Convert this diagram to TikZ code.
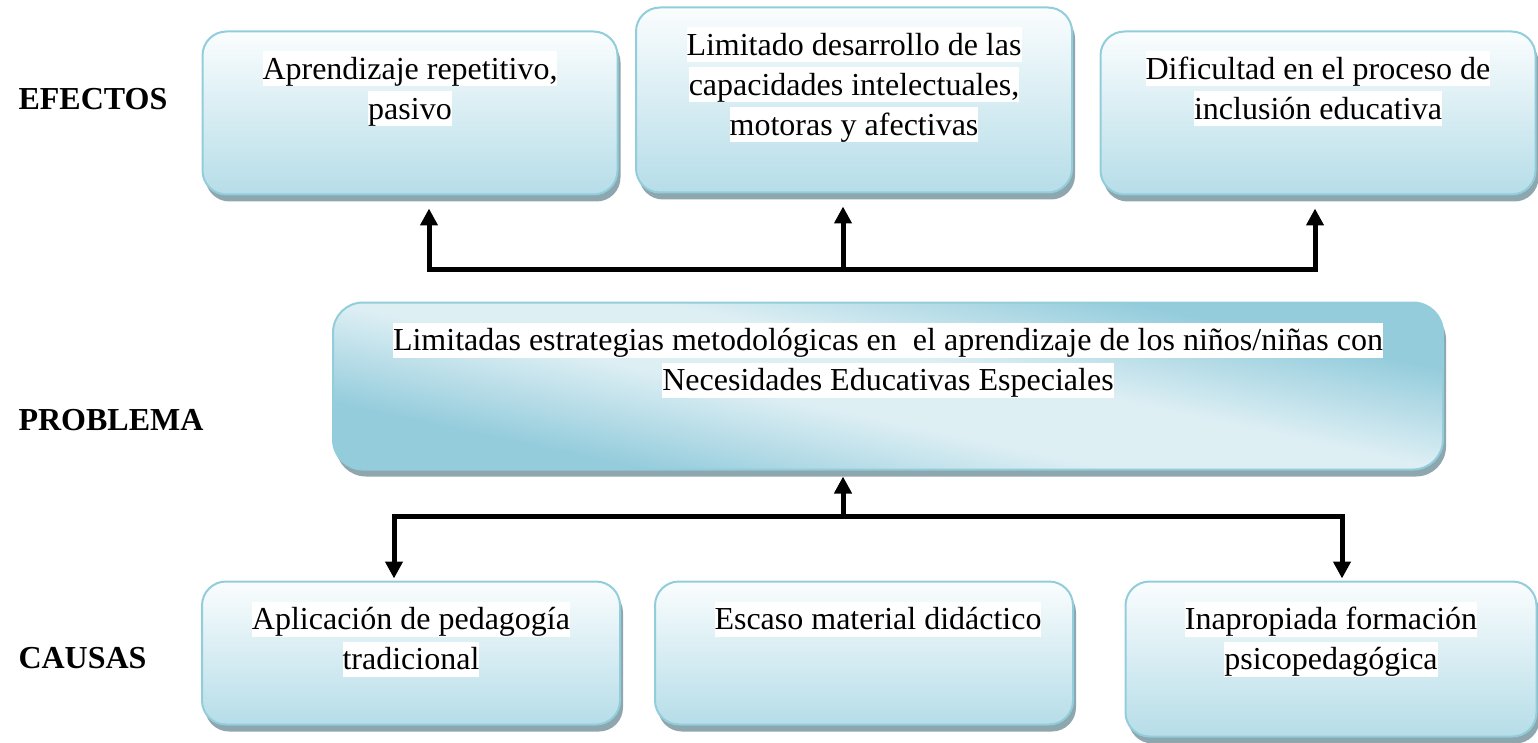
\documentclass[tikz,border=0pt]{standalone}
\usepackage{fontspec}
\setmainfont{Liberation Serif}
\usetikzlibrary{arrows.meta,shadows}
\definecolor{boxline}{HTML}{92CDDC}
\definecolor{boxtop}{HTML}{FAFDFE}
\definecolor{boxbot}{HTML}{B6DDE8}
\definecolor{boxshadow}{HTML}{8EA6AD}
\definecolor{problight}{HTML}{DEEFF4}
\definecolor{probdark}{HTML}{94CCDC}
\pgfdeclareverticalshading{probshade}{100bp}{color(0bp)=(probdark);
  color(30bp)=(probdark); color(45bp)=(problight); color(55bp)=(problight);
  color(70bp)=(probdark); color(100bp)=(probdark)}
\setlength{\fboxsep}{0pt}
% white band behind every line of text
\newcommand{\wbg}[1]{\colorbox{white}{\rule[-7pt]{0pt}{35pt}#1}}
% text hanging from the top of a box
\newcommand{\celda}[3]{\parbox[c][#2][t]{#1}{\centering\vspace*{20pt}#3}}
\tikzset{%
  >={Triangle[width=17pt,length=17pt]},
  % Specifications for style of nodes:
       box/.style = {rectangle, rounded corners=24pt, draw=boxline,
                     line width=2pt, top color=boxtop, bottom color=boxbot,
                     inner sep=0pt, font=\fontsize{32}{40}\selectfont,
                     drop shadow={shadow xshift=3pt, shadow yshift=-7pt,
                                  fill=boxshadow, opacity=1}},
   probbox/.style = {box, rounded corners=30pt, shading=probshade,
                     shading angle=-12},
     level/.style = {anchor=base west, font=\fontsize{32}{40}\selectfont\bfseries},
       bar/.style = {line width=5pt, line join=miter},
}
\begin{document}
\begin{tikzpicture}[x=1pt, y=-1pt]
  \useasboundingbox (0,0) rectangle (1538,743);
  % Levels
  \node (efectos)  [level] at (15,110) {EFECTOS};
  \node (problema) [level] at (15,430) {PROBLEMA};
  \node (causas)   [level] at (15,668) {CAUSAS};
  % Effects
  \node (ef1) [box] at (410,113) {\celda{415pt}{163pt}{\wbg{Aprendizaje repetitivo,}\\\wbg{pasivo}}};
  \node (ef2) [box] at (854,100) {\celda{436pt}{185pt}{\wbg{Limitado desarrollo de las}\\\wbg{capacidades intelectuales,}\\\wbg{motoras y afectivas}}};
  \node (ef3) [box] at (1318,113) {\celda{435pt}{163pt}{\wbg{Dificultad en el proceso de}\\\wbg{inclusión educativa}}};
  % Problem
  \node (prob) [probbox] at (888,386) {\celda{1110pt}{167pt}{\wbg{Limitadas estrategias metodológicas en\ \ el aprendizaje de los niños/niñas con}\\\wbg{Necesidades Educativas Especiales}}};
  % Causes
  \node (ca1) [box] at (411,653) {\celda{418pt}{143pt}{\wbg{Aplicación de pedagogía}\\\wbg{tradicional}}};
  \node (ca2) [box] at (864,653) {\celda{418pt}{143pt}{\hspace*{28pt}\wbg{Escaso material didáctico}\hfill}};
  \node (ca3) [box] at (1331,659) {\celda{411pt}{155pt}{\wbg{Inapropiada formación}\\\wbg{psicopedagógica}}};
  % Connectors between the levels
  \coordinate (bE1) at (429,269);
  \coordinate (bE2) at (843,269);
  \coordinate (bE3) at (1315,269);
  \coordinate (bC1) at (394,516);
  \coordinate (bC2) at (843,516);
  \coordinate (bC3) at (1342,516);
  \draw[bar, <->, shorten <=13pt, shorten >=13pt]
        (bE1 |- ef1.south) -- (bE1) -- (bE3) -- (bE3 |- ef3.south);
  \draw[bar, ->, shorten >=13pt] (bE2) -- (bE2 |- ef2.south);
  \draw[bar, ->, shorten >=6pt] (bC2) -- (bC2 |- prob.south);
  \draw[bar, <->, shorten <=2pt, shorten >=2pt]
        (bC1 |- ca1.north) -- (bC1) -- (bC3) -- (bC3 |- ca3.north);
\end{tikzpicture}
\end{document}
